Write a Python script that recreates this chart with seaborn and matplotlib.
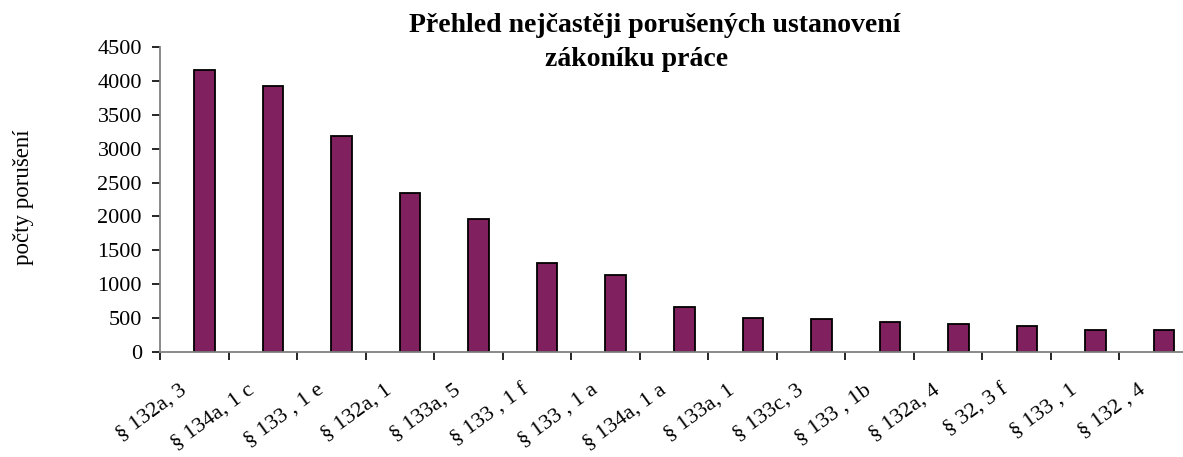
import numpy as np
import pandas as pd
import matplotlib
matplotlib.use("Agg")
import matplotlib.pyplot as plt
import matplotlib.transforms as mtransforms
import seaborn as sns

categories = ["§ 132a, 3", "§ 134a, 1 c", "§ 133 , 1 e", "§ 132a, 1", "§ 133a, 5",
              "§ 133 , 1 f", "§ 133 , 1 a", "§ 134a, 1 a", "§ 133a, 1", "§ 133c, 3",
              "§ 133 , 1b", "§ 132a, 4", "§ 32, 3 f", "§ 133 , 1", "§ 132 , 4"]
counts = [4160, 3930, 3180, 2350, 1960, 1320, 1130, 670, 505, 490, 440, 420, 380, 320, 320]
yticks = [0, 500, 1000, 1500, 2000, 2500, 3000, 3500, 4000, 4500]
title_lines = ["Přehled nejčastěji porušených ustanovení", "zákoníku práce"]
ylabel = "počty porušení"

sns.set_style("white")
plt.rcParams["font.family"] = ["Liberation Serif", "DejaVu Serif"]
plt.rcParams["text.color"] = "black"
plt.rcParams["xtick.color"] = "black"
plt.rcParams["ytick.color"] = "black"
plt.rcParams["xtick.labelcolor"] = "black"
plt.rcParams["ytick.labelcolor"] = "black"

# Excel-style chart: an empty first series and the visible second one
series_names = ["_empty", "porušení"]
df = pd.DataFrame({
    "kat": categories * 2,
    "hodnota": [0] * len(categories) + counts,
    "serie": [series_names[0]] * len(categories) + [series_names[1]] * len(categories),
})

fig = plt.figure(figsize=(11.83, 4.57), dpi=100)
ax = fig.add_axes([160 / 1183, 1 - 352 / 457, 1028 / 1183, 305 / 457])

sns.barplot(data=df, x="kat", y="hodnota", hue="serie", hue_order=series_names,
            palette={series_names[0]: "white", series_names[1]: "#80205F"},
            width=0.6, dodge=True, edgecolor="black", linewidth=1.3,
            legend=False, ax=ax, errorbar=None, saturation=1)
for p in ax.patches:
    if p.get_height() == 0:
        p.set_visible(False)

ax.set_xlim(-0.5, len(categories) - 0.5)
ax.set_ylim(0, 4500)
ax.set_yticks(yticks)
ax.set_yticklabels([str(v) for v in yticks], fontsize=16)
ax.set_xticks(np.arange(len(categories)))
ax.set_xticklabels(categories, rotation=36, ha="right", va="center",
                   rotation_mode="anchor", fontsize=16)
ax.set_xticks(np.arange(-0.5, len(categories), 1), minor=True)
ax.tick_params(axis="x", which="major", bottom=True, length=0, pad=26)
ax.tick_params(axis="x", which="minor", bottom=True, length=6, width=1.2,
               direction="out", color="black")
ax.tick_params(axis="y", length=6, width=1.2, direction="out", color="black", pad=7, left=True)
offset = mtransforms.ScaledTranslation(-0.10, 0, fig.dpi_scale_trans)
for lab in ax.get_xticklabels():
    lab.set_transform(lab.get_transform() + offset)

ax.set_xlabel("")
ax.set_ylabel("")
for s in ["top", "right"]:
    ax.spines[s].set_visible(False)
for s in ["left", "bottom"]:
    ax.spines[s].set_color("#808080")
    ax.spines[s].set_linewidth(1.3)

fig.text(24 / 1183, 1 - 197 / 457, ylabel, rotation=90, ha="center", va="center", fontsize=16.5)
fig.text(655 / 1183, 1 - 25 / 457, title_lines[0], ha="center", va="center",
         fontsize=20, fontweight="bold")
fig.text(637 / 1183, 1 - 59 / 457, title_lines[1], ha="center", va="center",
         fontsize=20, fontweight="bold")

fig.savefig("out.png", dpi=100)
